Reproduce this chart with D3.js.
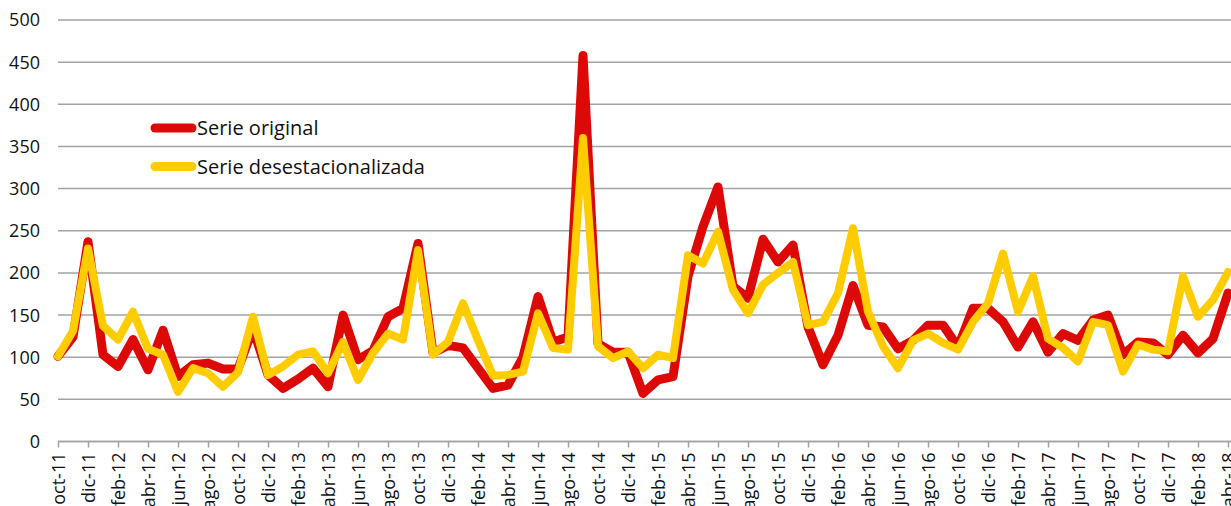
<!DOCTYPE html>
<html>
<head>
<meta charset="utf-8">
<script src="https://cdn.jsdelivr.net/npm/d3@7"></script>
<style>
  body { margin: 0; background: #fff; }
  #chart { width: 1231px; height: 506px; overflow: hidden; }
  text { font-family: "Open Sans", sans-serif; fill: #111; }
</style>
</head>
<body>
<div id="chart"></div>
<script>
// months oct-11 .. abr-18
const months = [
    'oct-11','nov-11','dic-11',
    'ene-12','feb-12','mar-12','abr-12','may-12','jun-12','jul-12','ago-12','sep-12','oct-12','nov-12','dic-12',
    'ene-13','feb-13','mar-13','abr-13','may-13','jun-13','jul-13','ago-13','sep-13','oct-13','nov-13','dic-13',
    'ene-14','feb-14','mar-14','abr-14','may-14','jun-14','jul-14','ago-14','sep-14','oct-14','nov-14','dic-14',
    'ene-15','feb-15','mar-15','abr-15','may-15','jun-15','jul-15','ago-15','sep-15','oct-15','nov-15','dic-15',
    'ene-16','feb-16','mar-16','abr-16','may-16','jun-16','jul-16','ago-16','sep-16','oct-16','nov-16','dic-16',
    'ene-17','feb-17','mar-17','abr-17','may-17','jun-17','jul-17','ago-17','sep-17','oct-17','nov-17','dic-17',
    'ene-18','feb-18','mar-18','abr-18'
];

const serieOriginal = [
    101, 124, 237, 103, 89, 121, 85, 132, 77, 91, 93, 86, 86, 134, 79, 63, 74, 87, 65, 150,
    97, 108, 148, 158, 235, 105, 114, 111, 87, 63, 67, 100, 172, 118, 124, 458, 116, 106, 106, 57,
    73, 77, 196, 255, 302, 184, 170, 240, 213, 233, 136, 91, 126, 185, 138, 136, 110, 120, 138, 138,
    112, 158, 158, 142, 112, 142, 106, 128, 120, 144, 150, 103, 118, 117, 103, 126, 105, 122, 176
];
const serieDesest = [
    101, 131, 229, 137, 121, 154, 110, 103, 59, 87, 81, 65, 82, 148, 79, 89, 103, 107, 81, 118,
    73, 105, 128, 121, 227, 103, 118, 164, 120, 78, 79, 83, 152, 111, 109, 360, 113, 99, 107, 87,
    103, 99, 221, 211, 249, 180, 152, 186, 200, 213, 138, 142, 176, 253, 154, 113, 87, 120, 128, 117,
    109, 142, 164, 223, 154, 196, 122, 111, 95, 142, 138, 83, 115, 109, 107, 196, 148, 168, 201
];
const yTicks = [0, 50, 100, 150, 200, 250, 300, 350, 400, 450, 500];

const width = 1231, height = 506;
const plotLeft = 58, plotTop = 20, plotBottom = 441.5;

const svg = d3.select('#chart').append('svg')
    .attr('width', width)
    .attr('height', height);

const x = d3.scalePoint()
    .domain(months)
    .range([plotLeft, plotLeft + 15 * (months.length - 1)]);

const y = d3.scaleLinear()
    .domain([0, 500])
    .range([plotBottom, plotTop]);

// gridlines
svg.append('g')
    .selectAll('line')
    .data(yTicks)
    .enter().append('line')
    .attr('x1', plotLeft)
    .attr('x2', width)
    .attr('y1', d => y(d))
    .attr('y2', d => y(d))
    .style('stroke', '#a3a3a3')
    .style('stroke-width', 1.5);

// y labels
svg.append('g')
    .selectAll('text')
    .data(yTicks)
    .enter().append('text')
    .attr('x', 40)
    .attr('y', d => y(d))
    .attr('dy', '0.36em')
    .attr('text-anchor', 'end')
    .style('font-size', '18px')
    .text(d => d);

// x axis
const xAxis = d3.axisBottom(x)
    .tickValues(months.filter((d, i) => i % 2 === 0))
    .tickSize(6)
    .tickSizeOuter(0);

const gx = svg.append('g')
    .attr('transform', `translate(0,${plotBottom})`)
    .call(xAxis);
gx.select('.domain')
    .attr('d', `M${plotLeft},0H${width}`)
    .style('stroke', '#a3a3a3')
    .style('stroke-width', 1.5);
gx.selectAll('.tick line')
    .style('stroke', '#a3a3a3')
    .style('stroke-width', 1.5);
gx.selectAll('.tick text')
    .attr('transform', 'rotate(-90)')
    .attr('x', -11)
    .attr('y', 0)
    .attr('dy', '0.36em')
    .attr('text-anchor', 'end')
    .style('font-family', '"Open Sans", sans-serif')
    .style('font-size', '18px')
    .style('fill', '#111');

const line = d3.line()
    .x((d, i) => x(months[i]))
    .y(d => y(d));

svg.append('path')
    .datum(serieOriginal)
    .attr('d', line)
    .style('fill', 'none')
    .style('stroke', '#dd0907')
    .style('stroke-width', 9)
    .style('stroke-linejoin', 'round')
    .style('stroke-linecap', 'round');

svg.append('path')
    .datum(serieDesest)
    .attr('d', line)
    .style('fill', 'none')
    .style('stroke', '#ffcc00')
    .style('stroke-width', 8)
    .style('stroke-linejoin', 'round')
    .style('stroke-linecap', 'round');

// legend
const legend = [
    { name: 'Serie original', color: '#dd0907' },
    { name: 'Serie desestacionalizada', color: '#ffcc00' }
];
const lg = svg.append('g')
    .selectAll('g')
    .data(legend)
    .enter().append('g')
    .attr('transform', (d, i) => `translate(0,${128 + i * 38.5})`);
lg.append('line')
    .attr('x1', 155).attr('x2', 192)
    .attr('y1', 0).attr('y2', 0)
    .style('stroke', d => d.color)
    .style('stroke-width', 9)
    .style('stroke-linecap', 'round');
lg.append('text')
    .attr('x', 197)
    .attr('y', 0)
    .attr('dy', '0.36em')
    .style('font-size', '20px')
    .text(d => d.name);
</script>
</body>
</html>
